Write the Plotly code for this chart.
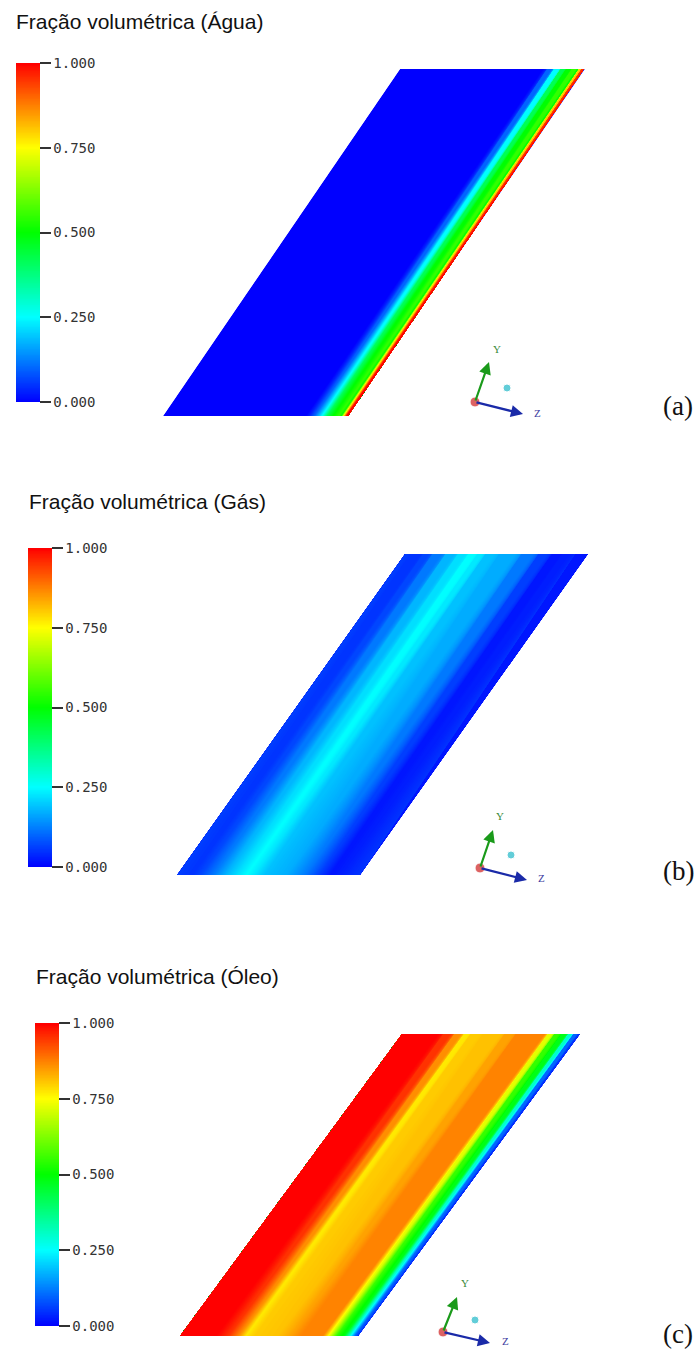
import plotly.graph_objects as go

# ---------------- data ----------------
# profiles of volume fraction across the pipe section (t = 0 left edge ... 1 right edge)
agua_t = [0.0, 0.77, 0.82, 0.86, 0.89, 0.92, 0.95, 0.965, 0.98, 0.99, 1.0]
agua_v = [0.0, 0.0, 0.10, 0.25, 0.42, 0.50, 0.55, 0.50, 0.80, 0.95, 1.0]

gas_t = [0.0, 0.08, 0.13, 0.20, 0.27, 0.33, 0.38, 0.42, 0.48, 0.60, 0.70, 0.78, 0.84, 0.90, 1.0]
gas_v = [0.06, 0.05, 0.07, 0.12, 0.18, 0.22, 0.25, 0.23, 0.19, 0.17, 0.12, 0.06, 0.02, 0.03, 0.05]

oleo_t = [0.0, 0.20, 0.27, 0.33, 0.37, 0.42, 0.55, 0.62, 0.68, 0.80, 0.84, 0.88, 0.92, 0.95, 0.98, 1.0]
oleo_v = [1.0, 1.0, 0.95, 0.86, 0.77, 0.80, 0.81, 0.84, 0.87, 0.87, 0.72, 0.55, 0.48, 0.30, 0.10, 0.05]

titles = ["Fração volumétrica (Água)", "Fração volumétrica (Gás)", "Fração volumétrica (Óleo)"]
panel_labels = ["(a)", "(b)", "(c)"]
tick_vals = [0.0, 0.25, 0.5, 0.75, 1.0]
tick_text = ["0.000", "0.250", "0.500", "0.750", "1.000"]

# ---------------- layout geometry (pixels, y downward) ----------------
W, H = 699, 1371
geo = [
    dict(top=69, bot=416, tl=400, bl=163, w=185, cb=(16, 63, 402), title=(14, 21),
         tri=dict(o=(475, 402), y=(489, 362), yl=(497, 349), z=(523, 414), zl=(537, 413), c=(507, 388)),
         lab=(678, 406)),
    dict(top=554, bot=875, tl=405, bl=177, w=183, cb=(28, 548, 867), title=(27, 501),
         tri=dict(o=(480, 868), y=(493, 830), yl=(500, 816), z=(527, 880), zl=(541, 878), c=(511, 855)),
         lab=(678, 871)),
    dict(top=1034, bot=1336, tl=402, bl=180, w=178, cb=(35, 1023, 1326), title=(34, 976),
         tri=dict(o=(443, 1332), y=(457, 1297), yl=(465, 1283), z=(490, 1343), zl=(505, 1341), c=(475, 1320)),
         lab=(678, 1334)),
]

rainbow = [[0.0, "rgb(0,0,255)"], [0.25, "rgb(0,255,255)"], [0.5, "rgb(0,255,0)"],
           [0.75, "rgb(255,255,0)"], [1.0, "rgb(255,0,0)"]]

profiles = [(agua_t, agua_v), (gas_t, gas_v), (oleo_t, oleo_v)]

fig = go.Figure()
annotations = []

hidden_axis = dict(showgrid=False, showline=False, showticklabels="none", startline=False,
                   endline=False, minorgridcount=0, gridwidth=0, linewidth=0,
                   gridcolor="rgba(0,0,0,0)", linecolor="rgba(0,0,0,0)")

for k, ((tt, vv), g) in enumerate(zip(profiles, geo)):
    b = [0.0, 1.0]
    xs = [[g["bl"] + t * g["w"] + bb * (g["tl"] - g["bl"]) for t in tt] for bb in b]
    ys = [[g["bot"] + bb * (g["top"] - g["bot"]) for _ in tt] for bb in b]
    cid = f"carpet{k}"
    fig.add_trace(go.Carpet(carpet=cid, a=tt, b=b, x=xs, y=ys,
                            aaxis=hidden_axis, baxis=hidden_axis,
                            color="rgba(0,0,0,0)"))
    cx, cy0, cy1 = g["cb"]
    fig.add_trace(go.Contourcarpet(
        carpet=cid, a=tt, b=b, z=[vv, vv],
        colorscale=rainbow, zmin=0, zmax=1, autocontour=False,
        contours=dict(start=0.0, end=1.0, size=0.0025, coloring="fill"),
        line=dict(width=0, color="rgba(0,0,0,0)"),
        showscale=True,
        colorbar=dict(
            x=cx / W, xanchor="left", y=1 - ((cy0 + cy1) / 2) / H, yanchor="middle",
            len=cy1 - cy0, lenmode="pixels", thickness=24, thicknessmode="pixels",
            xpad=0, ypad=0, outlinewidth=0,
            tickmode="array", tickvals=tick_vals, ticktext=tick_text,
            ticks="outside", ticklen=11, tickwidth=1.5, tickcolor="#333",
            tickfont=dict(family="DejaVu Sans Mono", size=14, color="#333")),
    ))
    # title
    tx, ty = g["title"]
    annotations.append(dict(x=tx, y=ty, xref="x", yref="y", text=titles[k], showarrow=False,
                            xanchor="left", yanchor="middle",
                            font=dict(family="Liberation Sans", size=21, color="#111")))
    # panel label
    lx, ly = g["lab"]
    annotations.append(dict(x=lx, y=ly, xref="x", yref="y", text=panel_labels[k], showarrow=False,
                            xanchor="center", yanchor="middle",
                            font=dict(family="Liberation Serif", size=27, color="#111")))
    # axis triad
    tri = g["tri"]
    for tip, col in ((tri["y"], "#1a9a1a"), (tri["z"], "#1a2aa8")):
        annotations.append(dict(x=tip[0], y=tip[1], ax=tri["o"][0], ay=tri["o"][1],
                                xref="x", yref="y", axref="x", ayref="y", text="",
                                showarrow=True, arrowhead=2, arrowsize=1.1, arrowwidth=2.2,
                                arrowcolor=col))
    annotations.append(dict(x=tri["yl"][0], y=tri["yl"][1], xref="x", yref="y", text="Y",
                            showarrow=False, font=dict(family="Liberation Serif", size=11, color="#3a8a3a")))
    annotations.append(dict(x=tri["zl"][0], y=tri["zl"][1], xref="x", yref="y", text="Z",
                            showarrow=False, font=dict(family="Liberation Serif", size=11, color="#3a3aa0")))
    fig.add_trace(go.Scatter(x=[tri["o"][0], tri["c"][0]], y=[tri["o"][1], tri["c"][1]],
                             mode="markers", hoverinfo="skip", showlegend=False,
                             marker=dict(size=[10, 8], color=["#d02020", "#20b8c8"])))

fig.update_layout(
    width=W, height=H, margin=dict(l=0, r=0, t=0, b=0),
    paper_bgcolor="white", plot_bgcolor="white", showlegend=False,
    xaxis=dict(range=[0, W], visible=False, fixedrange=True, domain=[0, 1]),
    yaxis=dict(range=[H, 0], visible=False, fixedrange=True, domain=[0, 1]),
    annotations=annotations,
)

fig.write_html("out.html")
